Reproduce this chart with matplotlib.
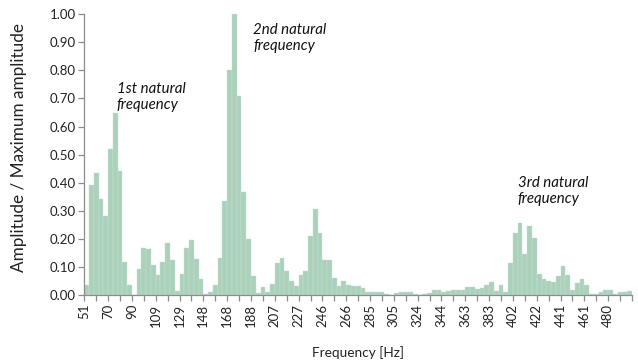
import matplotlib
matplotlib.use("Agg")
import matplotlib.pyplot as plt
import numpy as np
from matplotlib.ticker import FixedLocator, FormatStrFormatter

# Normalised amplitude per frequency bin (bin step ~3.9 Hz, starting at 51 Hz)
amplitude = [
    0.036, 0.394, 0.435, 0.344, 0.282, 0.520, 0.650, 0.443, 0.119, 0.039,
    0.000, 0.094, 0.168, 0.165, 0.107, 0.074, 0.118, 0.185, 0.127, 0.015,
    0.078, 0.168, 0.196, 0.128, 0.057, 0.007, 0.014, 0.036, 0.133, 0.337,
    0.800, 1.000, 0.710, 0.367, 0.200, 0.071, 0.010, 0.030, 0.013, 0.040,
    0.117, 0.133, 0.087, 0.052, 0.033, 0.073, 0.087, 0.212, 0.307, 0.221,
    0.126, 0.125, 0.063, 0.035, 0.052, 0.039, 0.035, 0.034, 0.026, 0.013,
    0.012, 0.011, 0.011, 0.006, 0.003, 0.008, 0.011, 0.013, 0.012, 0.007,
    0.002, 0.005, 0.008, 0.018, 0.018, 0.011, 0.015, 0.018, 0.019, 0.020,
    0.029, 0.029, 0.023, 0.027, 0.039, 0.049, 0.017, 0.039, 0.011, 0.114,
    0.223, 0.256, 0.146, 0.246, 0.206, 0.078, 0.057, 0.052, 0.048, 0.070,
    0.106, 0.073, 0.021, 0.045, 0.057, 0.037, 0.007, 0.007, 0.012, 0.021,
    0.021, 0.005, 0.014, 0.011, 0.017,
]
tick_labels = ["51", "70", "90", "109", "129", "148", "168", "188", "207", "227",
               "246", "266", "285", "305", "324", "344", "363", "383", "402",
               "422", "441", "461", "480"]
label_every = 5  # bins per labelled tick

annotations = [
    ("1st natural\nfrequency", 6.8, 0.758),
    ("2nd natural\nfrequency", 35.5, 0.968),
    ("3rd natural\nfrequency", 91.0, 0.425),
]

plt.rcParams['font.family'] = ['Lato', 'DejaVu Sans']

fig = plt.figure(figsize=(6.38, 3.60), dpi=100)
ax = fig.add_axes([0.1321, 0.1792, 0.9906 - 0.1321, 0.9611 - 0.1792])

n = len(amplitude)
x = np.arange(n) + 0.5
ax.bar(x, amplitude, width=1.0, color="#abd1bb", edgecolor="#c4e0cf",
       linewidth=0.3)

ax.set_xlim(0, n)
ax.set_ylim(0, 1.0)

major = np.arange(len(tick_labels)) * label_every
ax.xaxis.set_major_locator(FixedLocator(major))
ax.set_xticklabels(tick_labels, rotation=90, fontsize=9.5, color="#222222")
minor = np.arange(label_every / 2, n + 0.01, label_every / 2)
ax.xaxis.set_minor_locator(FixedLocator(minor))

ax.yaxis.set_major_locator(FixedLocator(np.arange(0, 1.001, 0.1)))
ax.yaxis.set_major_formatter(FormatStrFormatter("%.2f"))
for lab in ax.get_yticklabels():
    lab.set_fontsize(9.5)
    lab.set_color("#222222")

for side in ("top", "right"):
    ax.spines[side].set_visible(False)
for side in ("left", "bottom"):
    ax.spines[side].set_color("#8c8c8c")
    ax.spines[side].set_linewidth(0.9)

ax.tick_params(axis="x", which="both", direction="out", length=4,
               color="#8c8c8c", width=0.9, pad=2)
ax.tick_params(axis="y", direction="out", length=4, color="#8c8c8c",
               width=0.9, pad=2)

ax.set_xlabel("Frequency [Hz]", fontsize=9.8, color="#222222")
ax.set_ylabel("Amplitude / Maximum amplitude", fontsize=12.3, color="#222222")
ax.xaxis.set_label_coords(0.5, -0.201)
ax.yaxis.set_label_coords(-0.12, 0.525)
ax.xaxis.label.set_va("center")
ax.yaxis.label.set_va("center")

for text, tx, ty in annotations:
    ax.text(tx, ty, text, fontsize=10.8, style="italic", color="#111111",
            ha="left", va="top", linespacing=1.2)

fig.savefig("out.png", dpi=100)
